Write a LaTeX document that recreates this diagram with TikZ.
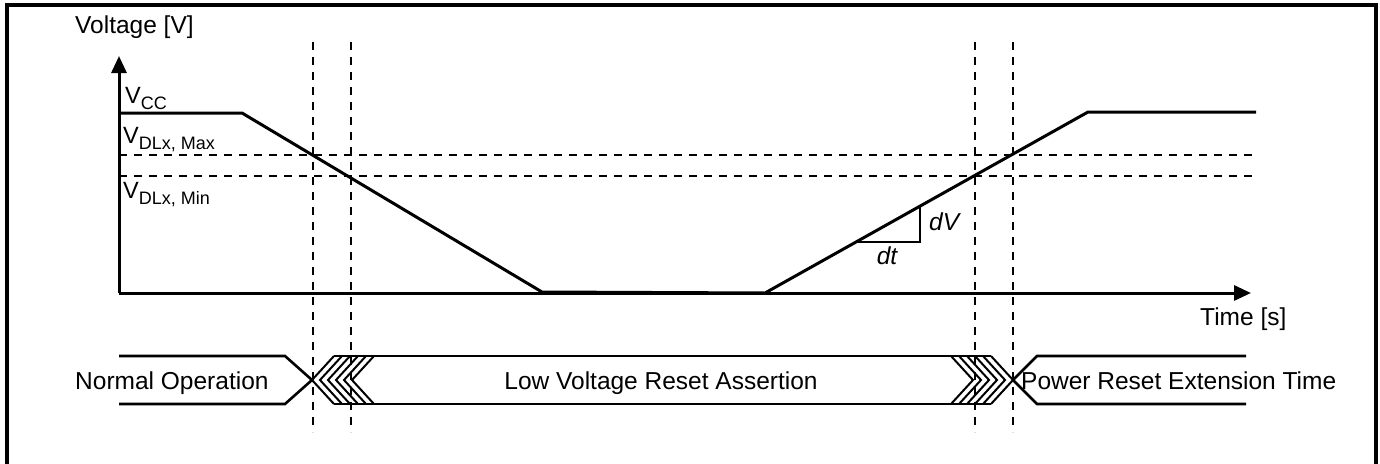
\documentclass[tikz,border=0pt]{standalone}
\usepackage{fontspec}
\setmainfont{Liberation Sans}
\usetikzlibrary{arrows.meta}
\newcommand{\bigtxt}{\fontsize{24.5}{26}\selectfont}
\newcommand{\subtxt}{\fontsize{18}{20}\selectfont}
\newcommand{\vsub}[1]{{\fontsize{23.5}{26}\selectfont V}\raisebox{-6pt}{\subtxt #1}}
\tikzset{
  wave/.style={line width=3pt, line join=miter},
  axis/.style={line width=3pt, -{Triangle[length=17pt,width=15pt]}},
  guide/.style={line width=2.2pt, dash pattern=on 8pt off 7pt},
  bus/.style={line width=2.6pt},
  chev/.style={line width=2pt},
  lbl/.style={inner sep=0pt, font=\bigtxt},
}
\begin{document}
\begin{tikzpicture}[x=1pt,y=-1pt]
\useasboundingbox (0,0) rectangle (1380,463);
% frame
\draw[line width=4pt] (7,480) -- (7,5) -- (1376,5) -- (1376,480);

% guides
\foreach \yy in {155,176} \draw[guide] (119,\yy) -- (1256,\yy);
\foreach \xx in {313,351,975,1013} \draw[guide] (\xx,42) -- (\xx,432);

% axes
\coordinate (O) at (119,293);
\coordinate (Ytop) at (119,56);
\coordinate (Xend) at (1251,293);
\draw[axis] (O) -- (Ytop);
\draw[axis] (O) -- (Xend);

% waveform
\coordinate (w0) at (119,113);
\coordinate (w1) at (242,113);
\coordinate (w2) at (542,292);
\coordinate (w3) at (765,293);
\coordinate (w4) at (1088,112);
\coordinate (w5) at (1256,112);
\draw[wave] (w0) -- (w1) -- (w2) -- (w3) -- (w4) -- (w5);

% slope triangle
\coordinate (tA) at (856,242);
\coordinate (tB) at (920,242);
\coordinate (tC) at (920,206);
\draw[line width=2.4pt] (tA) -- (tB) -- (tC);
\node[lbl, font=\bigtxt\itshape, anchor=west] (dV) at (929,222) {dV};
\node[lbl, font=\bigtxt\itshape, anchor=center] (dt) at (887,256) {dt};

% labels
\node[lbl, anchor=base west] (vlab) at (75,33) {Voltage [V]};
\node[lbl, anchor=base west] (tlab) at (1200,325) {Time [s]};
\node[inner sep=0pt, anchor=base west] (vcc) at (125,103) {\vsub{CC}};
\node[inner sep=0pt, anchor=base west] (vmax) at (123,143) {\vsub{DLx, Max}};
\node[inner sep=0pt, anchor=base west] (vmin) at (123,198) {\vsub{DLx, Min}};

% bus
\draw[bus] (119,356) -- (285,356) -- (312,380) -- (285,404) -- (119,404);
\draw[bus] (334,356) -- (991,356);
\draw[bus] (334,404) -- (991,404);
\foreach \i in {0,...,5} {
  \pgfmathsetmacro{\tl}{312+8*\i}
  \draw[chev] (\tl+22,356) -- (\tl,380) -- (\tl+22,404);
  \pgfmathsetmacro{\tr}{1013-8*\i}
  \draw[chev] (\tr-22,356) -- (\tr,380) -- (\tr-22,404);
}
\draw[bus] (1013,380) -- (1037,356) -- (1246,356);
\draw[bus] (1013,380) -- (1037,404) -- (1246,404);

\node[lbl, anchor=base west] (nop) at (75,389) {Normal Operation};
\node[lbl, anchor=base] (lvr) at (661,389) {Low Voltage Reset Assertion};
\node[lbl, anchor=base west] (pre) at (1021,389) {Power Reset Extension Time};
\end{tikzpicture}
\end{document}
